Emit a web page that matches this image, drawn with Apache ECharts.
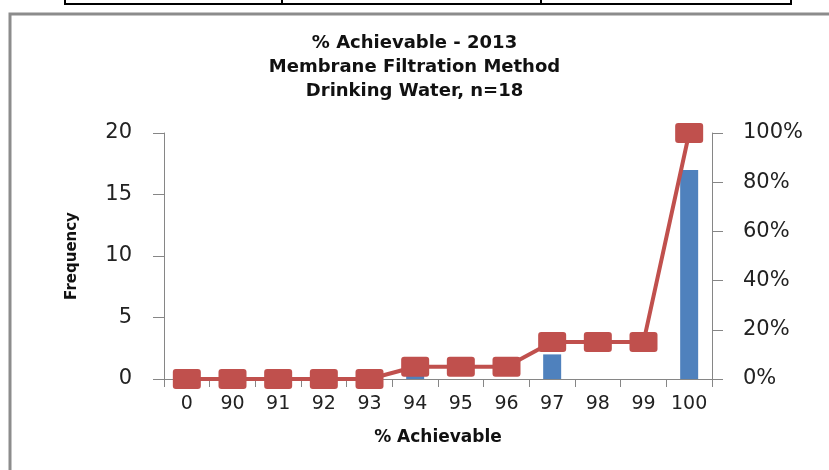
<!DOCTYPE html>
<html>
<head>
<meta charset="utf-8">
<script src="https://cdn.jsdelivr.net/npm/echarts@6/dist/echarts.min.js"></script>
<style>
  html, body { margin: 0; padding: 0; background: #fff; }
  #main { width: 829px; height: 470px; }
</style>
</head>
<body>
<div id="main"></div>
<script>
// categories on the x axis
var categories = ['0', '90', '91', '92', '93', '94', '95', '96', '97', '98', '99', '100'];
// frequency (bars, left axis)
var frequency = [0, 0, 0, 0, 0, 1, 0, 0, 2, 0, 0, 17];
// cumulative % (line, right axis)
var cumulative = [0, 0, 0, 0, 0, 0.05, 0.05, 0.05, 0.15, 0.15, 0.15, 1];

var myChart = echarts.init(document.getElementById('main'));
var font = 'DejaVu Sans';
// square marker with small rounded corners
var marker = 'path://M3,0 H25 A3,3 0 0 1 28,3 V17 A3,3 0 0 1 25,20 H3 A3,3 0 0 1 0,17 V3 A3,3 0 0 1 3,0 Z';

var option = {
	backgroundColor: '#fff',
	animation: false,
	title: {
		text: '% Achievable - 2013\nMembrane Filtration Method\nDrinking Water, n=18',
		left: 'center',
		top: 31,
		padding: 0,
		textStyle: {
			fontFamily: font,
			fontSize: 18,
			fontWeight: 'bold',
			color: '#111',
			lineHeight: 24
		}
	},
	// frame and the table border above it
	graphic: [
		{ type: 'rect', shape: { x: 10, y: 14, width: 900, height: 600 },
		  style: { fill: 'none', stroke: '#8c8c8c', lineWidth: 3 } },
		{ type: 'line', shape: { x1: 65, y1: 4, x2: 791, y2: 4 },
		  style: { stroke: '#000', lineWidth: 2 } },
		{ type: 'line', shape: { x1: 65, y1: 0, x2: 65, y2: 5 }, style: { stroke: '#000', lineWidth: 2 } },
		{ type: 'line', shape: { x1: 282, y1: 0, x2: 282, y2: 5 }, style: { stroke: '#000', lineWidth: 2 } },
		{ type: 'line', shape: { x1: 541, y1: 0, x2: 541, y2: 5 }, style: { stroke: '#000', lineWidth: 2 } },
		{ type: 'line', shape: { x1: 791, y1: 0, x2: 791, y2: 5 }, style: { stroke: '#000', lineWidth: 2 } }
	],
	grid: { left: 164, right: 117, top: 133, bottom: 91 },
	xAxis: {
		type: 'category',
		data: categories,
		name: '% Achievable',
		nameLocation: 'middle',
		nameGap: 50,
		nameTextStyle: { fontFamily: font, fontSize: 17, fontWeight: 'bold', color: '#111' },
		axisLine: { lineStyle: { color: '#868686', width: 1 } },
		axisTick: { show: true, length: 8, lineStyle: { color: '#868686' } },
		axisLabel: { interval: 0, margin: 16, fontFamily: font, fontSize: 19, color: '#222' }
	},
	yAxis: [
		{
			type: 'value',
			min: 0, max: 20, interval: 5,
			name: 'Frequency',
			nameLocation: 'middle',
			nameRotate: 90,
			nameGap: 84,
			nameTextStyle: { fontFamily: font, fontSize: 15, fontWeight: 'bold', color: '#111' },
			splitLine: { show: false },
			axisLine: { show: true, lineStyle: { color: '#868686' } },
			axisTick: { show: true, length: 11, lineStyle: { color: '#868686' } },
			axisLabel: { margin: 32, fontFamily: font, fontSize: 21, color: '#222' }
		},
		{
			type: 'value',
			min: 0, max: 1, interval: 0.2,
			position: 'right',
			splitLine: { show: false },
			axisLine: { show: true, lineStyle: { color: '#868686' } },
			axisTick: { show: true, length: 11, lineStyle: { color: '#868686' } },
			axisLabel: {
				margin: 31, fontFamily: font, fontSize: 21, color: '#222',
				formatter: function (v) { return Math.round(v * 100) + '%'; }
			}
		}
	],
	series: [
		{
			name: 'Frequency',
			type: 'bar',
			data: frequency,
			barWidth: 18,
			itemStyle: { color: '#4f81bd' }
		},
		{
			name: 'Cumulative %',
			type: 'line',
			yAxisIndex: 1,
			data: cumulative,
			symbol: marker,
			symbolSize: [28, 20],
			symbolKeepAspect: false,
			lineStyle: { color: '#c0504d', width: 4 },
			itemStyle: { color: '#c0504d' }
		}
	]
};
myChart.setOption(option);
</script>
</body>
</html>
